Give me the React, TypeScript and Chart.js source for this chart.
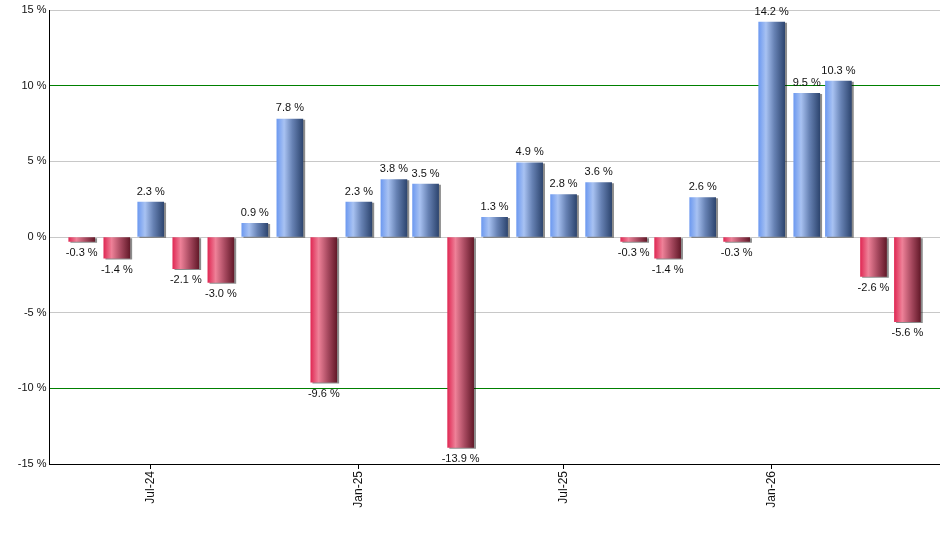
import { useEffect, useRef } from "react";
import { Chart, registerables, type Plugin, type ScriptableContext } from "chart.js";

Chart.register(...registerables);

// monthly returns, one bar per month (first day of month)
const months = [
  "2024-05", "2024-06", "2024-07", "2024-08", "2024-09", "2024-10", "2024-11",
  "2024-12", "2025-01", "2025-02", "2025-03", "2025-04", "2025-05", "2025-06",
  "2025-07", "2025-08", "2025-09", "2025-10", "2025-11", "2025-12", "2026-01",
  "2026-02", "2026-03", "2026-04", "2026-05",
];
const returns = [
  -0.3, -1.4, 2.3, -2.1, -3.0, 0.9, 7.8, -9.6, 2.3, 3.8, 3.5, -13.9, 1.3, 4.9,
  2.8, 3.6, -0.3, -1.4, 2.6, -0.3, 14.2, 9.5, 10.3, -2.6, -5.6,
];
const tickMonths = ["2024-07", "2025-01", "2025-07", "2026-01"];
const tickLabels = ["Jul-24", "Jan-25", "Jul-25", "Jan-26"];
const yTicks = [-15, -10, -5, 0, 5, 10, 15];

const DAY = 86400000;
const toTime = (m: string) => {
  const [y, mo] = m.split("-").map(Number);
  return Date.UTC(y, mo - 1, 1);
};
const xVals = months.map(toTime);
const tickVals = tickMonths.map(toTime);
const xMin = toTime("2024-07") - 89.5 * DAY;
const xMax = toTime("2024-07") + 697.8 * DAY;

const FONT = '"Liberation Sans", Arial, sans-serif';
const BAR_W = 26;

function barFill(c: ScriptableContext<"bar">) {
  const chart = c.chart;
  const i = c.dataIndex;
  const v = returns[i] ?? 0;
  if (!chart.chartArea || i === undefined) return v >= 0 ? "#7a9ee6" : "#d8375a";
  const px = chart.scales.x.getPixelForValue(xVals[i]);
  const g = chart.ctx.createLinearGradient(px - BAR_W / 2, 0, px + BAR_W / 2, 0);
  if (v >= 0) {
    g.addColorStop(0, "#6e9af0");
    g.addColorStop(0.28, "#a8c2f2");
    g.addColorStop(0.6, "#6782b4");
    g.addColorStop(1, "#2e4670");
  } else {
    g.addColorStop(0, "#e02a55");
    g.addColorStop(0.3, "#ee8198");
    g.addColorStop(0.65, "#a84a60");
    g.addColorStop(1, "#641a2a");
  }
  return g;
}

// drop shadow behind bars
const shadowPlugin: Plugin<"bar"> = {
  id: "barShadow",
  beforeDatasetsDraw(chart) {
    const ctx = chart.ctx;
    ctx.save();
    ctx.shadowColor = "rgba(0,0,0,0.45)";
    ctx.shadowOffsetX = 2;
    ctx.shadowOffsetY = 1;
    ctx.shadowBlur = 0;
  },
  afterDatasetsDraw(chart) {
    chart.ctx.restore();
  },
};

// "x.x %" labels above / below each bar
const valueLabels: Plugin<"bar"> = {
  id: "valueLabels",
  afterDatasetsDraw(chart) {
    const ctx = chart.ctx;
    const meta = chart.getDatasetMeta(0);
    ctx.save();
    ctx.font = `11px ${FONT}`;
    ctx.fillStyle = "#111";
    ctx.textAlign = "center";
    meta.data.forEach((el: any, i) => {
      const v = returns[i];
      const text = `${v.toFixed(1)} %`;
      if (v >= 0) {
        ctx.textBaseline = "bottom";
        ctx.fillText(text, el.x, el.y - 5);
      } else {
        ctx.textBaseline = "top";
        ctx.fillText(text, el.x, el.y + 6);
      }
    });
    ctx.restore();
  },
};

export default function App() {
  const canvasRef = useRef<HTMLCanvasElement>(null);

  useEffect(() => {
    document.body.style.margin = "0";
    if (!canvasRef.current) return;
    const chart = new Chart(canvasRef.current, {
      type: "bar",
      data: {
        datasets: [
          {
            data: xVals.map((x, i) => ({ x, y: returns[i] })),
            backgroundColor: barFill,
            borderWidth: 0,
            barThickness: BAR_W,
          },
        ],
      },
      options: {
        animation: false,
        responsive: true,
        maintainAspectRatio: false,
        layout: { padding: { top: 10, right: 0, left: 0, bottom: 0 } },
        plugins: {
          legend: { display: false },
          tooltip: { enabled: false },
        },
        scales: {
          x: {
            type: "linear",
            min: xMin,
            max: xMax,
            offset: false,
            afterBuildTicks: (s) => {
              s.ticks = tickVals.map((value) => ({ value }));
            },
            afterFit: (s) => {
              s.height = 86;
            },
            grid: {
              offset: false,
              drawOnChartArea: false,
              drawTicks: true,
              tickLength: 5,
              color: "#000",
            },
            border: { display: true, color: "#000", width: 1 },
            ticks: {
              autoSkip: false,
              maxRotation: 90,
              minRotation: 90,
              padding: 2,
              color: "#111",
              font: { family: FONT, size: 12 },
              callback: (value) => tickLabels[tickVals.indexOf(Number(value))] ?? "",
            },
          },
          y: {
            min: -15,
            max: 15,
            afterBuildTicks: (s) => {
              s.ticks = yTicks.map((value) => ({ value }));
            },
            afterFit: (s) => {
              s.width = 49.5;
            },
            grid: {
              drawTicks: false,
              color: (c) =>
                c.tick && Math.abs(c.tick.value) === 10 ? "#008000" : "#c8c8c8",
              lineWidth: 1,
            },
            border: { display: true, color: "#000", width: 1 },
            ticks: {
              padding: 3,
              color: "#111",
              font: { family: FONT, size: 11 },
              callback: (value) => `${value} %`,
            },
          },
        },
      },
      plugins: [shadowPlugin, valueLabels],
    });
    return () => chart.destroy();
  }, []);

  return (
    <div style={{ width: 940, height: 550, position: "relative" }}>
      <canvas ref={canvasRef} />
    </div>
  );
}
